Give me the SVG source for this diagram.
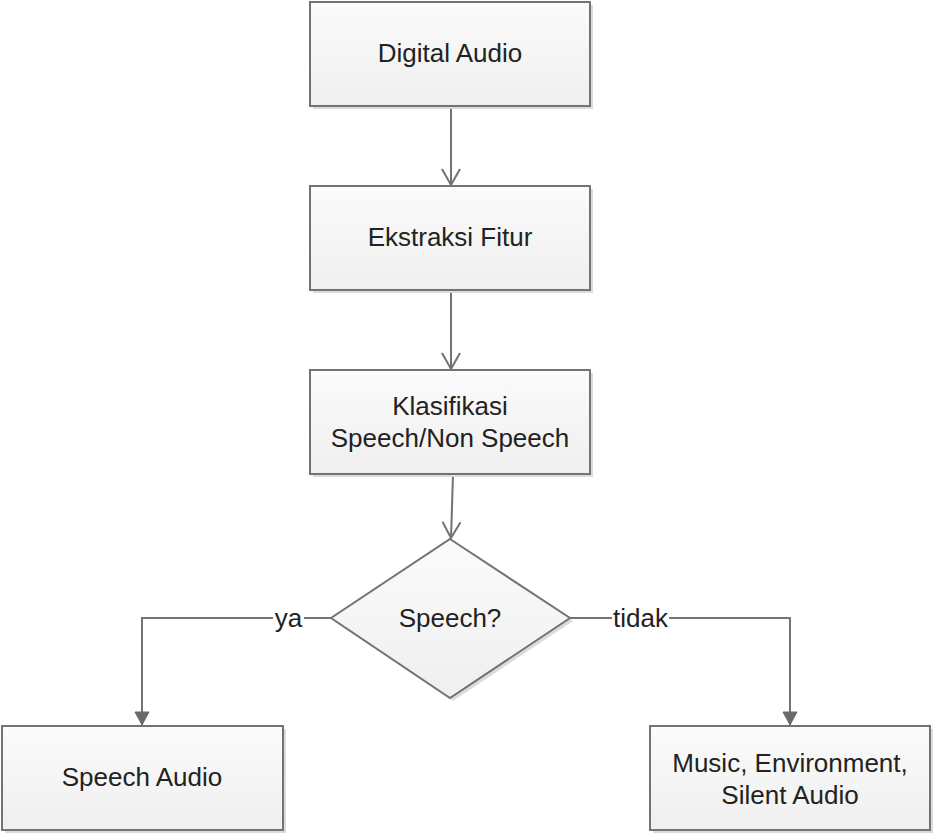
<svg xmlns="http://www.w3.org/2000/svg" width="937" height="837" viewBox="0 0 937 837">
<defs>
<linearGradient id="fill" x1="0" y1="0" x2="0" y2="1">
<stop offset="0" stop-color="#fbfbfb"/>
<stop offset="1" stop-color="#efefef"/>
</linearGradient>
<marker id="open" viewBox="0 0 20 20" refX="17" refY="10" markerWidth="20" markerHeight="20" markerUnits="userSpaceOnUse" orient="auto">
<path d="M1,1 L17,10 L1,19" fill="none" stroke="#737373" stroke-width="2"/>
</marker>
<marker id="solid" viewBox="0 0 16 16" refX="14" refY="8" markerWidth="16" markerHeight="16" markerUnits="userSpaceOnUse" orient="auto">
<path d="M1,1 L14,8 L1,15 Z" fill="#6a6a6a" stroke="#6a6a6a" stroke-width="1"/>
</marker>
</defs>
<style>
.box{fill:url(#fill);stroke:#737373;stroke-width:2}
.shadow{fill:#dcdcdc}
.t{font-family:"Liberation Sans",Arial,sans-serif;font-size:26px;fill:#222;text-anchor:middle}
.c{fill:none;stroke:#737373;stroke-width:2}
</style>
<rect width="937" height="837" fill="#ffffff"/>
<g id="connectors">
<line class="c" x1="451" y1="107" x2="451" y2="185" marker-end="url(#open)"/>
<line class="c" x1="451" y1="291" x2="451" y2="369" marker-end="url(#open)"/>
<line class="c" x1="453" y1="475" x2="451" y2="538" marker-end="url(#open)"/>
<polyline class="c" points="331,618 142,618 142,725" marker-end="url(#solid)"/>
<polyline class="c" points="570,618 790,618 790,725" marker-end="url(#solid)"/>
<rect x="273" y="604" width="31" height="28" fill="#ffffff"/>
<text class="t" x="288.5" y="627">ya</text>
<rect x="612" y="604" width="57" height="28" fill="#ffffff"/>
<text class="t" x="640.5" y="627">tidak</text>
</g>
<g id="digital-audio">
<rect class="shadow" x="313" y="5" width="280" height="104"/>
<rect class="box" x="310" y="2" width="280" height="104"/>
<text class="t" x="450" y="62">Digital Audio</text>
</g>
<g id="ekstraksi-fitur">
<rect class="shadow" x="313" y="189" width="280" height="104"/>
<rect class="box" x="310" y="186" width="280" height="104"/>
<text class="t" x="450" y="246">Ekstraksi Fitur</text>
</g>
<g id="klasifikasi">
<rect class="shadow" x="313" y="373" width="280" height="104"/>
<rect class="box" x="310" y="370" width="280" height="104"/>
<text class="t" x="450" y="415">Klasifikasi</text>
<text class="t" x="450" y="447">Speech/Non Speech</text>
</g>
<g id="speech-decision">
<polygon class="shadow" points="453,542 573,621 453,701 334,621"/>
<polygon class="box" points="450,539 570,618 450,698 331,618"/>
<text class="t" x="450" y="627">Speech?</text>
</g>
<g id="speech-audio">
<rect class="shadow" x="5" y="729" width="281" height="104"/>
<rect class="box" x="2" y="726" width="281" height="104"/>
<text class="t" x="142" y="786">Speech Audio</text>
</g>
<g id="non-speech">
<rect class="shadow" x="653" y="729" width="280" height="104"/>
<rect class="box" x="650" y="726" width="280" height="104"/>
<text class="t" x="790" y="772">Music, Environment,</text>
<text class="t" x="790" y="804">Silent Audio</text>
</g>
</svg>
